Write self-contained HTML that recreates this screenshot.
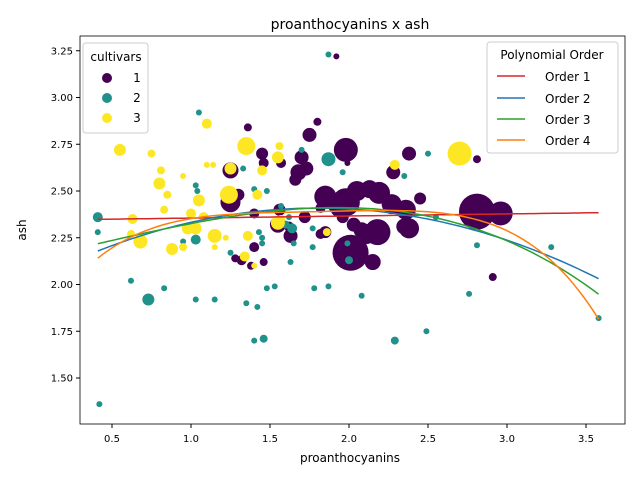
<!DOCTYPE html>
<html><head><meta charset="utf-8"><style>
body{margin:0;background:#fff;font-family:"Liberation Sans","DejaVu Sans",sans-serif}
svg text{font-family:"DejaVu Sans","Liberation Sans",sans-serif}
</style></head><body>
<svg id="chart" width="640" height="480" xmlns="http://www.w3.org/2000/svg">
<rect width="640" height="480" fill="#fff"/>
<text x="350" y="29" font-size="14" text-anchor="middle">proanthocyanins x ash</text>
<g id="marks"></g><g id="lines"></g>
<rect x="80" y="36" width="545" height="388" fill="none" stroke="#000" stroke-width="0.8"/>
<g id="axes"></g>
<text x="350" y="462" font-size="12" text-anchor="middle">proanthocyanins</text>
<text x="26" y="230" font-size="12" text-anchor="middle" transform="rotate(-90 26 230)">ash</text>
<g>
<rect x="83" y="43" width="65" height="90" rx="3" fill="#fff" fill-opacity="0.8" stroke="#ccc"/>
<text x="116" y="61" font-size="12" text-anchor="middle">cultivars</text>
<circle cx="107" cy="78" r="5" fill="#440154"/><text x="137" y="82" font-size="12" text-anchor="middle">1</text>
<circle cx="107" cy="98" r="5" fill="#21918c"/><text x="137" y="102" font-size="12" text-anchor="middle">2</text>
<circle cx="107" cy="118" r="5" fill="#fde725"/><text x="137" y="122" font-size="12" text-anchor="middle">3</text>
</g>
<g>
<rect x="487" y="42" width="131" height="111" rx="3" fill="#fff" fill-opacity="0.8" stroke="#ccc"/>
<text x="552" y="59" font-size="12" text-anchor="middle">Polynomial Order</text>
<line x1="497" y1="76" x2="525" y2="76" stroke="#d62728" stroke-width="1.5"/><text x="545" y="81" font-size="12">Order 1</text>
<line x1="497" y1="98" x2="525" y2="98" stroke="#1f77b4" stroke-width="1.5"/><text x="545" y="103" font-size="12">Order 2</text>
<line x1="497" y1="119" x2="525" y2="119" stroke="#2ca02c" stroke-width="1.5"/><text x="545" y="124" font-size="12">Order 3</text>
<line x1="497" y1="140" x2="525" y2="140" stroke="#ff7f0e" stroke-width="1.5"/><text x="545" y="145" font-size="12">Order 4</text>
</g>
</svg>
<script>
const xTicks=[0.5,1.0,1.5,2.0,2.5,3.0,3.5];
const yTicks=[1.50,1.75,2.00,2.25,2.50,2.75,3.00,3.25];
const xs1=[1.92,1.36,1.80,1.75,1.98,1.70,1.68,1.66,1.73,1.57,1.45,1.46,1.25,1.25,1.30,1.40,1.85,1.92,1.98,2.05,2.13,2.19,2.27,2.36,2.28,2.38,2.45,2.35,2.38,2.03,2.08,2.18,2.11,2.01,2.15,1.93,1.96,1.82,1.85,1.82,1.72,1.63,1.62,1.55,1.40,1.46,1.32,1.28,1.38,2.81,2.91,2.81,2.96,1.99,1.56,2.27];
const ys1=[3.22,2.84,2.87,2.80,2.72,2.68,2.60,2.56,2.62,2.65,2.70,2.65,2.61,2.44,2.48,2.38,2.47,2.42,2.44,2.50,2.51,2.49,2.43,2.40,2.60,2.70,2.46,2.31,2.30,2.32,2.29,2.28,2.27,2.17,2.12,2.40,2.36,2.41,2.28,2.27,2.36,2.26,2.31,2.32,2.20,2.12,2.13,2.14,2.10,2.67,2.04,2.39,2.38,2.65,2.40,2.41];
const ss1=[3,4,4,7,12,7,8,6,7,5,6,5,8,10,6,5,11,8,14,10,9,11,10,10,7,7,6,8,10,7,8,13,10,18,8,7,6,5,6,5,6,7,5,8,5,4,5,4,4,4,4,18,12,3,6,6];
const xs2=[0.41,0.42,0.41,0.73,0.62,0.83,1.03,1.03,1.15,1.35,1.42,1.46,1.40,1.48,1.53,1.78,1.87,2.08,2.29,2.49,2.76,2.81,3.28,3.58,1.87,1.87,1.05,1.96,2.00,1.99,1.60,1.64,1.62,1.65,1.77,1.45,1.45,1.63,1.25,1.43,1.03,1.04,0.95,2.50,2.35,1.70,1.33,1.48,1.40,1.57,2.55,1.77];
const ys2=[2.36,1.36,2.28,1.92,2.02,1.98,2.24,1.92,1.92,1.90,1.88,1.71,1.70,1.98,1.99,1.98,1.99,1.94,1.70,1.75,1.95,2.21,2.20,1.82,2.67,3.23,2.92,2.60,2.13,2.22,2.32,2.30,2.36,2.22,2.20,2.22,2.25,2.12,2.17,2.28,2.53,2.50,2.23,2.70,2.58,2.72,2.62,2.50,2.51,2.42,2.36,2.30];
const ss2=[5,3,3,6,3,3,5,3,3,3,3,4,3,3,3,3,3,3,4,3,3,3,3,3,7,3,3,3,4,3,4,5,3,3,3,3,3,3,3,3,3,3,3,3,3,3,3,3,3,3,3,3];
const xs3=[0.55,0.75,0.81,0.80,0.85,0.83,0.63,0.62,0.68,0.88,0.95,1.05,1.10,1.10,1.14,1.00,0.98,1.03,1.15,1.08,0.95,1.24,1.25,1.35,1.36,1.42,1.45,1.56,1.55,1.55,1.57,1.34,1.40,1.86,2.70,2.29,1.22,1.15];
const ys3=[2.72,2.70,2.61,2.54,2.48,2.40,2.35,2.27,2.23,2.19,2.58,2.45,2.86,2.64,2.64,2.38,2.30,2.30,2.26,2.36,2.20,2.48,2.62,2.74,2.26,2.48,2.61,2.74,2.68,2.33,2.35,2.15,2.10,2.28,2.70,2.64,2.25,2.20];
const ss3=[6,4,4,6,4,4,5,4,7,6,3,6,5,3,3,5,6,6,7,5,4,9,6,9,5,5,5,4,6,7,4,5,3,4,12,5,3,3];
const X=v=>112+(v-0.5)*158, Y=v=>191-(v-2.5)*187;
const NS='http://www.w3.org/2000/svg';
function mk(t,a,p){const e=document.createElementNS(NS,t);for(const k in a)e.setAttribute(k,a[k]);p.appendChild(e);return e;}
const ax=document.getElementById('axes');
xTicks.forEach(v=>{const l=mk('line',{x1:X(v),x2:X(v),y1:424,y2:428,stroke:'#000'},ax);


const t=mk('text',{x:X(v),y:442,'font-size':10,'text-anchor':'middle'},ax);t.textContent=v.toFixed(1);

});
yTicks.forEach(v=>{const l=mk('line',{x1:76,x2:80,y1:Y(v),y2:Y(v),stroke:'#000'},ax);


const t=mk('text',{x:73,y:Y(v)+3.5,'font-size':10,'text-anchor':'end'},ax);t.textContent=v.toFixed(2);

});
const mg=document.getElementById('marks');
[[xs1,ys1,ss1,'#440154'],[xs2,ys2,ss2,'#21918c'],[xs3,ys3,ss3,'#fde725']].forEach(([xa,ya,sa,c],ci)=>{
xa.forEach((x,i)=>{const p=mk('circle',{cx:X(x),cy:Y(ya[i]),r:sa[i],fill:c},mg);

});});
const AX=xs1.concat(xs2,xs3), AY=ys1.concat(ys2,ys3);
function fit(d){const n=d+1,M=[],b=[];for(let i=0;i<n;i++){M.push(new Array(n).fill(0));b.push(0);}
const m=2;AX.forEach((x,k)=>{const u=x-m;for(let i=0;i<n;i++){b[i]+=Math.pow(u,i)*AY[k];for(let j=0;j<n;j++)M[i][j]+=Math.pow(u,i+j);}});
for(let i=0;i<n;i++){let p=i;for(let r=i+1;r<n;r++)if(Math.abs(M[r][i])>Math.abs(M[p][i]))p=r;[M[i],M[p]]=[M[p],M[i]];[b[i],b[p]]=[b[p],b[i]];
for(let r=0;r<n;r++)if(r!==i){const f=M[r][i]/M[i][i];for(let j=i;j<n;j++)M[r][j]-=f*M[i][j];b[r]-=f*b[i];}}
const c=b.map((v,i)=>v/M[i][i]);return x=>c.reduce((s,ci,i)=>s+ci*Math.pow(x-m,i),0);}
const lg=document.getElementById('lines');const mn=Math.min(...AX),mx=Math.max(...AX);
['#d62728','#1f77b4','#2ca02c','#ff7f0e'].forEach((c,k)=>{const f=fit(k+1);let pts=[];
for(let i=0;i<=100;i++){const x=mn+(mx-mn)*i/100;pts.push(X(x).toFixed(1)+','+Y(f(x)).toFixed(1));}
const pl=mk('polyline',{points:pts.join(' '),fill:'none',stroke:c,'stroke-width':1.5},lg);

});
</script>
</body></html>
